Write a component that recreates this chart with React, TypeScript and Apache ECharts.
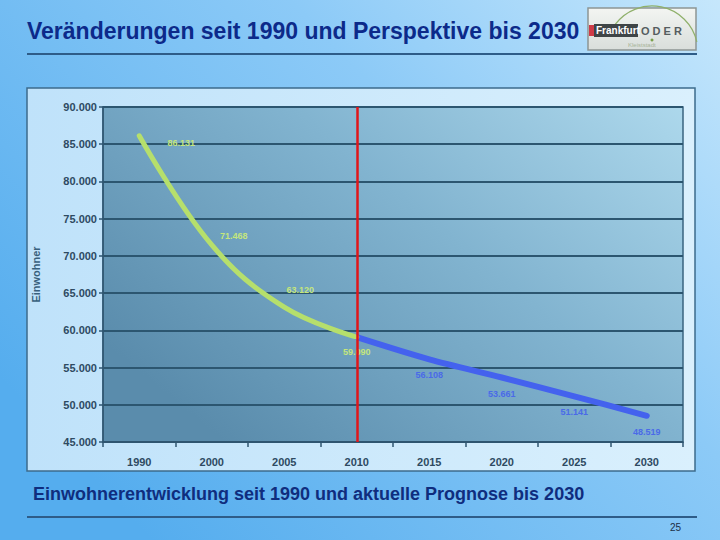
import React, { useEffect, useRef } from "react";
import * as echarts from "echarts";

const years = ["1990", "2000", "2005", "2010", "2015", "2020", "2025", "2030"];
const pastValues = [86131, 71468, 63120, 59090, null, null, null, null];
const forecastValues = [null, null, null, 59090, 56108, 53661, 51141, 48519];
const yTicks = { min: 45000, max: 90000, step: 5000 };

const pastLabelOffsets: number[][] = [[42, 7], [22, -9], [16, -17], [0, 15]];
const forecastLabelOffsets: number[][] = [[0, 0], [0, 16], [0, 16], [0, 16], [0, 16]];

const fmt = (v: number) => {
  const s = Math.round(v).toString();
  return s.replace(/\B(?=(\d{3})+(?!\d))/g, ".");
};

export default function App() {
  const ref = useRef<HTMLDivElement>(null);
  useEffect(() => {
    if (!ref.current) return;
    const chart = echarts.init(ref.current, null, { renderer: "svg" });
    const font = "'Liberation Sans', Arial, sans-serif";

    const pastData = pastValues.map((v, i) =>
      v == null
        ? null
        : { value: v, label: { offset: pastLabelOffsets[i] || [0, 0] } }
    );
    const forecastData = forecastValues.map((v, i) =>
      v == null
        ? null
        : {
            value: v,
            label: {
              show: i !== 3,
              offset: forecastLabelOffsets[i - 3] || [0, 16],
            },
          }
    );

    chart.setOption({
      animation: false,
      backgroundColor: new echarts.graphic.LinearGradient(0, 0.7, 1, 0, [
        { offset: 0, color: "#55adee" },
        { offset: 0.6, color: "#8ccaf7" },
        { offset: 1, color: "#c6e7fc" },
      ]),
      graphic: [
        {
          type: "rect",
          z: -10,
          shape: { x: 27, y: 88, width: 668, height: 383 },
          style: {
            fill: new echarts.graphic.LinearGradient(0, 0, 1, 0, [
              { offset: 0, color: "#bfe2fa" },
              { offset: 1, color: "#daf0fd" },
            ]),
            stroke: "#3d6b8c",
            lineWidth: 1.5,
          },
        },
        {
          type: "text",
          left: 27,
          top: 19,
          style: {
            text: "Veränderungen seit 1990 und Perspektive bis 2030",
            font: `bold 23px ${font}`,
            fill: "#0c2a8a",
          },
        },
        {
          type: "line",
          shape: { x1: 27, y1: 54, x2: 697, y2: 54 },
          style: { stroke: "#2e5c88", lineWidth: 2 },
        },
        // logo
        {
          type: "group",
          children: [
            {
              type: "rect",
              shape: { x: 588, y: 8, width: 108, height: 42 },
              style: {
                fill: new echarts.graphic.LinearGradient(0, 0, 0, 1, [
                  { offset: 0, color: "#f3f5f2" },
                  { offset: 1, color: "#d9dedb" },
                ]),
                stroke: "#8d9594",
                lineWidth: 1.5,
              },
            },
            {
              type: "arc",
              shape: { cx: 652, cy: 52, r: 46, startAngle: Math.PI * 1.2, endAngle: Math.PI * 1.93 },
              style: { stroke: "#8fb06a", lineWidth: 1.2, fill: "none" },
            },
            {
              type: "rect",
              shape: { x: 589, y: 25, width: 5, height: 11 },
              style: { fill: "#cf3b48" },
            },
            {
              type: "rect",
              shape: { x: 594, y: 24, width: 44, height: 13 },
              style: { fill: "#3f4547" },
            },
            {
              type: "text",
              x: 596,
              y: 25,
              style: { text: "Frankfurt", font: `bold 10px ${font}`, fill: "#ffffff" },
            },
            {
              type: "text",
              x: 641,
              y: 25,
              style: { text: "O D E R", font: `bold 11px ${font}`, fill: "#555d60" },
            },
            {
              type: "circle",
              shape: { cx: 652, cy: 40, r: 1.5 },
              style: { fill: "#7aa04a" },
            },
            {
              type: "text",
              x: 628,
              y: 42,
              style: { text: "Kleiststadt", font: `6px ${font}`, fill: "#a7b49a" },
            },
          ],
        },
        {
          type: "text",
          left: 33,
          top: 485,
          style: {
            text: "Einwohnerentwicklung seit 1990 und aktuelle Prognose bis 2030",
            font: `bold 18px ${font}`,
            fill: "#0f2d7e",
          },
        },
        {
          type: "line",
          shape: { x1: 27, y1: 517, x2: 697, y2: 517 },
          style: { stroke: "#2e5c88", lineWidth: 2 },
        },
        {
          type: "text",
          left: 670,
          top: 522,
          style: { text: "25", font: `10px ${font}`, fill: "#1d3046" },
        },
      ],
      grid: {
        left: 103,
        right: 37,
        top: 107,
        bottom: 98,
        show: true,
        borderColor: "#3a6480",
        borderWidth: 1.5,
        backgroundColor: new echarts.graphic.LinearGradient(0, 0.7, 1, 0, [
          { offset: 0, color: "#5a8cac" },
          { offset: 0.55, color: "#82b4d0" },
          { offset: 1, color: "#add8ec" },
        ]),
      },
      xAxis: {
        type: "category",
        data: years,
        boundaryGap: true,
        axisLine: { lineStyle: { color: "#2f5670", width: 1.5 } },
        axisTick: { show: true, length: 5, inside: false, lineStyle: { color: "#2f5670", width: 1.5 } },
        axisLabel: {
          color: "#2e4a62",
          fontWeight: "bold",
          fontSize: 11,
          fontFamily: font,
          margin: 14,
        },
      },
      yAxis: {
        type: "value",
        min: yTicks.min,
        max: yTicks.max,
        interval: yTicks.step,
        name: "Einwohner",
        nameLocation: "middle",
        nameGap: 62,
        nameRotate: 90,
        nameTextStyle: { color: "#38607c", fontSize: 11, fontWeight: "bold", fontFamily: font },
        axisLine: { show: true, lineStyle: { color: "#2f5670", width: 1.5 } },
        axisTick: { show: true, length: 4, lineStyle: { color: "#2f5670", width: 1.5 } },
        splitLine: { lineStyle: { color: "#2c5670", width: 2 } },
        axisLabel: {
          color: "#2e4a62",
          fontWeight: "bold",
          fontSize: 11,
          fontFamily: font,
          margin: 6,
          formatter: (v: number) => fmt(v),
        },
      },
      series: [
        {
          type: "line",
          data: pastData,
          smooth: 0.4,
          connectNulls: false,
          symbol: "circle",
          symbolSize: 1,
          itemStyle: { color: "#b6df6c" },
          lineStyle: { color: "#b6df6c", width: 5, cap: "round" },
          label: {
            show: true,
            position: "inside",
            color: "#c4e67c",
            fontSize: 9,
            fontWeight: "bold",
            fontFamily: font,
            formatter: (p: any) => fmt(p.value),
          },
          z: 3,
        },
        {
          type: "line",
          data: forecastData,
          smooth: 0.3,
          symbol: "circle",
          symbolSize: 1,
          itemStyle: { color: "#4462ee" },
          lineStyle: { color: "#4462ee", width: 6, cap: "round" },
          label: {
            show: true,
            position: "inside",
            color: "#4a6ae8",
            fontSize: 9,
            fontWeight: "bold",
            fontFamily: font,
            formatter: (p: any) => fmt(p.value),
          },
          markLine: {
            silent: true,
            symbol: ["none", "none"],
            label: { show: false },
            lineStyle: { color: "#e0161a", width: 2.5, type: "solid" },
            data: [{ xAxis: "2010" }],
          },
          z: 2,
        },
      ],
    });
    return () => chart.dispose();
  }, []);
  return (
    <div
      ref={ref}
      style={{ position: "fixed", left: 0, top: 0, width: 720, height: 540 }}
    />
  );
}
